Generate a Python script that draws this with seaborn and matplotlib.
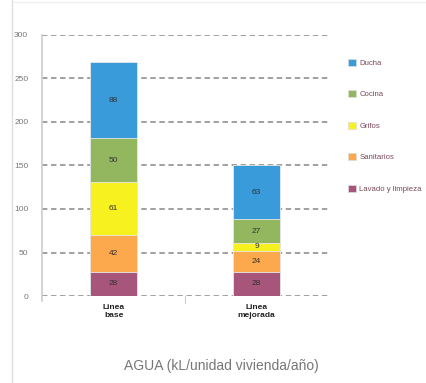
import pandas as pd
import matplotlib
matplotlib.use('Agg')
import matplotlib.pyplot as plt
import matplotlib.lines as mlines
import matplotlib.patches as mpatches
import numpy as np
import seaborn as sns

# data (kL / dwelling / year)
categories = ['Linea\nbase', 'Linea\nmejorada']
uses = ['Lavado y limpieza', 'Sanitarios', 'Grifos', 'Cocina', 'Ducha']
lavado = [28, 28]
sanitarios = [42, 24]
grifos = [61, 9]
cocina = [50, 27]
ducha = [88, 63]
colors = ['#a8557b', '#fca84c', '#f7f21f', '#93b75e', '#3a9bdb']
legend_labels = ['Ducha', 'Cocina', 'Grifos', 'Sanitarios', 'Lavado y limpieza']

sns.set_style('white')
plt.rcParams['font.family'] = ['Liberation Sans Narrow', 'Liberation Sans', 'DejaVu Sans']

layers = [lavado, sanitarios, grifos, cocina, ducha]
df = pd.DataFrame({'cat': categories})
cum = np.zeros(2)
for name, vals in zip(uses, layers):
    cum = cum + np.array(vals)
    df[name] = cum.copy()

fig = plt.figure(figsize=(4.26, 3.83), dpi=100)
ax = fig.add_axes([0.099, 0.227, 0.671, 0.682])

# draw stacked bars, tallest cumulative layer first
for name, col in reversed(list(zip(uses, colors))):
    sns.barplot(data=df, x='cat', y=name, color=col, width=0.33,
                saturation=1, ax=ax, edgecolor='#e8e8e8', linewidth=0.6)

# value labels in the middle of each segment
bottom = np.zeros(2)
for vals in layers:
    for i, v in enumerate(vals):
        ax.text(i, bottom[i] + v / 2, str(v), ha='center', va='center',
                fontsize=6, color='#333333')
    bottom = bottom + np.array(vals)

ax.set_ylim(0, 300)
ax.set_xlim(-0.5, 1.5)
ax.set_yticks(range(0, 301, 50))
ax.yaxis.grid(True, linestyle=(0, (3, 2)), color='#999999', linewidth=1.3)
ax.set_axisbelow(True)
ax.tick_params(axis='y', labelsize=6, colors='#777777', length=0, pad=10)
ax.tick_params(axis='x', labelsize=6, length=0, pad=6)
for lbl in ax.get_xticklabels():
    lbl.set_fontweight('bold')
    lbl.set_color('#222222')
ax.set_xlabel('')
ax.set_ylabel('')
for s in ['top', 'right', 'bottom']:
    ax.spines[s].set_visible(False)
ax.spines['left'].set_color('#cccccc')
ax.spines['left'].set_linewidth(1.2)
ax.spines['left'].set_bounds(-6, 300)
ax.plot([0.5, 0.5], [0, -8], color='#b8cfe0', lw=0.8, clip_on=False)

handles = [mpatches.Patch(facecolor=c, edgecolor='#dddddd', linewidth=0.5) for c in reversed(colors)]
leg = fig.legend(handles, legend_labels, loc='upper left', bbox_to_anchor=(0.8, 0.865),
                 frameon=False, fontsize=5.6, handlelength=1.0, handleheight=1.0,
                 labelspacing=3.0, handletextpad=0.5, labelcolor='#7a4a58')

fig.text(0.52, 0.045, 'AGUA (kL/unidad vivienda/año)', ha='center', va='center',
         fontsize=10, color='#777777')

fig.add_artist(mlines.Line2D([0.028, 0.028], [0, 1], color='#dddddd', lw=1))
fig.add_artist(mlines.Line2D([0.028, 1], [0.995, 0.995], color='#eeeeee', lw=1))

fig.savefig('out.png', dpi=100)
